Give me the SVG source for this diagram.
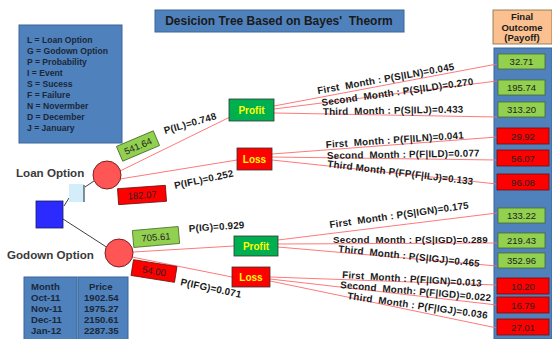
<svg xmlns="http://www.w3.org/2000/svg" width="552" height="339" viewBox="0 0 552 339">
<style>
.bluebox{fill:#4F81BD;stroke:#3B6699;stroke-width:1}
.t{font-family:"Liberation Sans",Arial,sans-serif;font-weight:bold;fill:#1a1a1a}
.leg{font-family:"Liberation Sans",Arial,sans-serif;font-weight:bold;font-size:8.6px;fill:#1B2838}
.tab{font-family:"Liberation Sans",Arial,sans-serif;font-weight:bold;font-size:9.6px;fill:#1B2838}
.lbl{font-family:"Liberation Sans",Arial,sans-serif;font-weight:bold;font-size:9.8px;letter-spacing:0.2px;fill:#1a1a1a;white-space:pre}
.num{font-family:"Liberation Sans",Arial,sans-serif;font-size:9.5px;fill:#222;text-anchor:middle}
.green{fill:#92D050;stroke:#4a6a2a;stroke-width:0.8}
.red{fill:#FF0000;stroke:#6a1010;stroke-width:0.8}
.evt{fill:#FF5555;stroke:#7a2020;stroke-width:1}
.br{stroke:#FF6A6A;stroke-width:0.9;fill:none}
.dk{stroke:#404040;stroke-width:1;fill:none}
.node-text{font-family:"Liberation Sans",Arial,sans-serif;font-weight:bold;font-size:10px;fill:#FFFF00;text-anchor:middle}
.opt{font-family:"Liberation Sans",Arial,sans-serif;font-weight:bold;font-size:11.6px;fill:#3a3a3a}
</style>

<!-- title -->
<g id="title">
<rect x="155" y="10" width="249" height="22" class="bluebox"/>
<text x="279" y="25" class="t" font-size="12" text-anchor="middle" style="white-space:pre">Desicion Tree Based on Bayes'  Theorm</text>
</g>

<!-- legend -->
<g id="legend">
<rect x="19" y="25" width="103" height="118" class="bluebox"/>
<text class="leg" x="27" y="43">L = Loan Option</text>
<text class="leg" x="27" y="54">G = Godown Option</text>
<text class="leg" x="27" y="65">P = Probability</text>
<text class="leg" x="27" y="76">I = Event</text>
<text class="leg" x="27" y="87">S = Sucess</text>
<text class="leg" x="27" y="98">F = Failure</text>
<text class="leg" x="27" y="109">N = Novermber</text>
<text class="leg" x="27" y="120">D = December</text>
<text class="leg" x="27" y="131">J = January</text>
</g>

<!-- payoff column -->
<g id="payoff">
<rect x="494" y="48" width="58" height="291" class="bluebox"/>
<rect x="493" y="10" width="59" height="34" fill="#FAC090" stroke="#7f6a3a" stroke-width="0.8"/>
<text class="t" font-size="9.5" x="522" y="20" text-anchor="middle">Final</text>
<text class="t" font-size="9.5" x="522" y="30.5" text-anchor="middle">Outcome</text>
<text class="t" font-size="9.5" x="522" y="41" text-anchor="middle">(Payoff)</text>
</g>

<!-- connectors -->
<g id="connectors">
<line class="dk" x1="64" y1="206" x2="69" y2="198"/>
<line class="dk" x1="85" y1="187" x2="94" y2="181"/>
<line class="dk" x1="63" y1="219" x2="108" y2="248"/>
<line class="br" x1="120" y1="171" x2="230" y2="117"/>
<line class="br" x1="120" y1="179" x2="237" y2="160"/>
<line class="br" x1="133" y1="252" x2="234" y2="246"/>
<line class="br" x1="132" y1="257" x2="232" y2="277"/>
<line class="br" x1="274" y1="106" x2="497" y2="64"/>
<line class="br" x1="274" y1="109" x2="497" y2="81"/>
<line class="br" x1="274" y1="113" x2="497" y2="117"/>
<line class="br" x1="272" y1="154" x2="497" y2="137"/>
<line class="br" x1="272" y1="157" x2="497" y2="160"/>
<line class="br" x1="272" y1="160" x2="497" y2="184"/>
<line class="br" x1="278" y1="240" x2="497" y2="213"/>
<line class="br" x1="278" y1="244" x2="497" y2="243"/>
<line class="br" x1="278" y1="247" x2="497" y2="266"/>
<line class="br" x1="270" y1="277" x2="497" y2="285"/>
<line class="br" x1="270" y1="279" x2="497" y2="305"/>
<line class="br" x1="270" y1="281" x2="497" y2="328"/>
</g>

<!-- decision node -->
<g id="decision">
<rect x="36" y="201" width="27" height="27" fill="#2B2BFF" stroke="#1a1a5a" stroke-width="0.8"/>
<rect x="69" y="184" width="15" height="18" fill="#D3EDFB"/>
<line x1="84" y1="185" x2="84" y2="202" stroke="#5a6a78" stroke-width="1.5"/>
</g>

<g id="loan">
<circle cx="107" cy="175" r="14" class="evt"/>
<text class="opt" x="16" y="177">Loan Option</text>
<g transform="translate(138,146) rotate(-23)"><rect x="-20" y="-8" width="40" height="16" class="green"/><text class="num" y="3.5">541.64</text></g>
<g transform="translate(142,195) rotate(-4)"><rect x="-24" y="-8" width="48" height="16" class="red"/><text class="num" y="3.5">182.07</text></g>
<text class="lbl" transform="translate(165,134) rotate(-16)">P(IL)=0.748</text>
<text class="lbl" transform="translate(175,189) rotate(-12)">P(IFL)=0.252</text>
</g>

<g id="godown">
<circle cx="119" cy="253" r="14" class="evt"/>
<text class="opt" x="7" y="259">Godown Option</text>
<g transform="translate(156,237) rotate(-5)"><rect x="-23" y="-8.5" width="46" height="17" class="green"/><text class="num" y="3.5">705.61</text></g>
<g transform="translate(154,271) rotate(9)"><rect x="-22" y="-8" width="44" height="16" class="red"/><text class="num" y="3.5">54.00</text></g>
<text class="lbl" transform="translate(189,232) rotate(-4)">P(IG)=0.929</text>
<text class="lbl" transform="translate(180,285) rotate(12)">P(IFG)=0.071</text>
</g>

<g id="loan-profit">
<rect x="229" y="99" width="45" height="22" fill="#00B050" stroke="#333" stroke-width="0.8"/>
<text class="node-text" x="251.5" y="113.5">Profit</text>
</g>
<g id="loan-loss">
<rect x="237" y="148" width="35" height="22" fill="#FF0000" stroke="#333" stroke-width="0.8"/>
<text class="node-text" x="254.5" y="162.5">Loss</text>
</g>
<g id="godown-profit">
<rect x="234" y="236" width="44" height="20" fill="#00B050" stroke="#333" stroke-width="0.8"/>
<text class="node-text" x="256" y="249.5">Profit</text>
</g>
<g id="godown-loss">
<rect x="232" y="267" width="38" height="20" fill="#FF0000" stroke="#333" stroke-width="0.8"/>
<text class="node-text" x="251" y="280.5">Loss</text>
</g>

<!-- branch labels -->
<g id="branch-labels">
<text class="lbl" transform="translate(318,94) rotate(-10)">First  Month : P(S|ILN)=0.045</text>
<text class="lbl" transform="translate(322,106) rotate(-8)">Second  Month : P(S|ILD)=0.270</text>
<text class="lbl" transform="translate(323,115) rotate(-1)">Third  Month : P(S|ILJ)=0.433</text>
<text class="lbl" transform="translate(326,148) rotate(-4)">First  Month : P(F|ILN)=0.041</text>
<text class="lbl" transform="translate(327,159) rotate(-1)">Second  Month : P(F|ILD)=0.077</text>
<text class="lbl" transform="translate(327,167) rotate(7)">Third Month P(FP(F|ILJ)=0.133</text>
<text class="lbl" transform="translate(330,228) rotate(-8)">First  Month : P(S|IGN)=0.175</text>
<text class="lbl" transform="translate(333,243) rotate(0)">Second  Month : P(S|IGD)=0.289</text>
<text class="lbl" transform="translate(338,252) rotate(6)">Third  Month : P(S|IGJ)=0.465</text>
<text class="lbl" transform="translate(342,278) rotate(3.5)">First  Month : P(F|IGN)=0.013</text>
<text class="lbl" transform="translate(340,288) rotate(5)">Second  Month: P(F|IGD)=0.022</text>
<text class="lbl" transform="translate(347,299) rotate(8)">Third  Month : P(F|IGJ)=0.036</text>
</g>

<!-- payoff values -->
<g id="payoff-values">
<rect x="498" y="54" width="47" height="15" class="green"/><text class="num" x="521.5" y="65">32.71</text>
<rect x="498" y="80" width="47" height="15" class="green"/><text class="num" x="521.5" y="91">195.74</text>
<rect x="498" y="102" width="47" height="15" class="green"/><text class="num" x="521.5" y="113">313.20</text>
<rect x="497" y="128" width="52" height="16" class="red"/><text class="num" x="523" y="139.5">29.92</text>
<rect x="497" y="150" width="52" height="16" class="red"/><text class="num" x="523" y="161.5">56.07</text>
<rect x="497" y="174" width="52" height="16" class="red"/><text class="num" x="523" y="185.5">96.08</text>
<rect x="498" y="208" width="47" height="15" class="green"/><text class="num" x="521.5" y="219">133.22</text>
<rect x="498" y="233" width="47" height="15" class="green"/><text class="num" x="521.5" y="244">219.43</text>
<rect x="498" y="253" width="47" height="15" class="green"/><text class="num" x="521.5" y="264">352.96</text>
<rect x="497" y="278" width="52" height="16" class="red"/><text class="num" x="523" y="289.5">10.20</text>
<rect x="497" y="297" width="52" height="16" class="red"/><text class="num" x="523" y="308.5">16.79</text>
<rect x="497" y="319" width="52" height="16" class="red"/><text class="num" x="523" y="330.5">27.01</text>
</g>

<!-- price table -->
<g id="price-table">
<rect x="24" y="277" width="53" height="64" class="bluebox"/>
<rect x="78" y="277" width="50" height="64" class="bluebox"/>
<text class="tab" x="31" y="290">Month</text>
<text class="tab" x="31" y="301">Oct-11</text>
<text class="tab" x="31" y="312">Nov-11</text>
<text class="tab" x="31" y="323">Dec-11</text>
<text class="tab" x="31" y="334">Jan-12</text>
<text class="tab" x="89" y="290">Price</text>
<text class="tab" x="84" y="301">1902.54</text>
<text class="tab" x="84" y="312">1975.27</text>
<text class="tab" x="84" y="323">2150.61</text>
<text class="tab" x="84" y="334">2287.35</text>
</g>
</svg>
